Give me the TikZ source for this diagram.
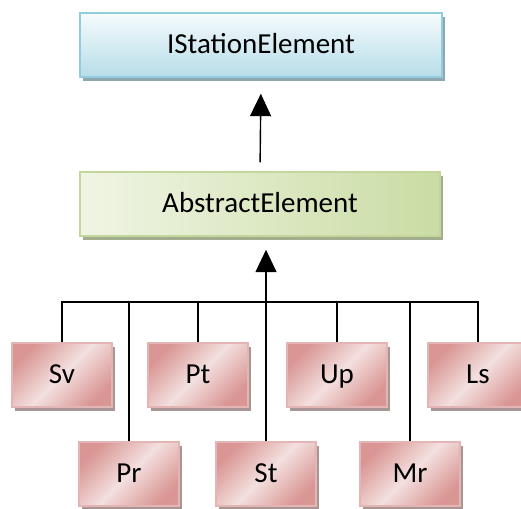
\documentclass[tikz,border=0pt]{standalone}
\usepackage{fontspec}
\setmainfont{Carlito}
\usetikzlibrary{arrows.meta,shadows}
\definecolor{blueline}{HTML}{93CDDD}
\definecolor{bluetop}{HTML}{F5FBFD}
\definecolor{bluebot}{HTML}{B7DDE8}
\definecolor{blueshade}{HTML}{8FA8B0}
\definecolor{greenline}{HTML}{C3D69B}
\definecolor{greenlight}{HTML}{F0F5E4}
\definecolor{greendark}{HTML}{CADCA4}
\definecolor{greenshade}{HTML}{A2AD8E}
\definecolor{redline}{HTML}{E3B6B5}
\definecolor{redlight}{HTML}{F3E0DF}
\definecolor{reddark}{HTML}{D99694}
\definecolor{redshade}{HTML}{A99594}
\tikzset{
  basebox/.style={rectangle, line width=1.5pt, inner sep=0pt,
    font=\fontsize{29}{33}\selectfont, text height=17pt, text depth=0pt},
  bluebox/.style={basebox, draw=blueline, top color=bluetop, bottom color=bluebot,
    minimum width=362pt, minimum height=64pt,
    drop shadow={shadow xshift=3pt, shadow yshift=-4pt, fill=blueshade, opacity=1}},
  greenbox/.style={basebox, draw=greenline, left color=greenlight, right color=greendark,
    minimum width=360pt, minimum height=64pt,
    drop shadow={shadow xshift=3pt, shadow yshift=-4pt, fill=greenshade, opacity=1}},
  redbox/.style={basebox, draw=redline, top color=reddark, bottom color=reddark,
    middle color=redlight, shading angle=45,
    minimum width=100pt, minimum height=64pt,
    drop shadow={shadow xshift=3pt, shadow yshift=-4pt, fill=redshade, opacity=1}},
  link/.style={line width=1.4pt},
  isa/.style={-{Triangle[length=16pt,width=15pt,scale=1.4]}}
}
\begin{document}
\begin{tikzpicture}[x=1pt,y=-1pt]
\useasboundingbox (0,0) rectangle (521,508);
% interface and base class
\node[bluebox] (ise) at (261,45) {IStationElement};
\node[greenbox] (abs) at (260,204) {AbstractElement};
% concrete elements, upper row
\node[redbox] (sv) at (62,375) {Sv};
\node[redbox] (pt) at (198,375) {Pt};
\node[redbox] (up) at (337,375) {Up};
\node[redbox] (ls) at (478,375) {Ls};
% concrete elements, lower row
\node[redbox] (pr) at (129,474) {Pr};
\node[redbox] (st) at (266,474) {St};
\node[redbox] (mr) at (410,474) {Mr};
\coordinate (bar) at (266,302);
\draw[link, isa, shorten <=9pt, shorten >=16pt] (abs.north) -- (ise.south);
\draw[link] (sv.north) |- (bar) -| (ls.north);
\foreach \n in {pt,up} {
  \draw[link] (\n.north) -- (\n.north |- bar);
}
\foreach \n in {pr,mr} {
  \draw[link] (\n.north) -- (\n.north |- bar);
}
\draw[link, isa, shorten >=13pt] (st.north) -- (st.north |- abs.south);
\end{tikzpicture}
\end{document}
